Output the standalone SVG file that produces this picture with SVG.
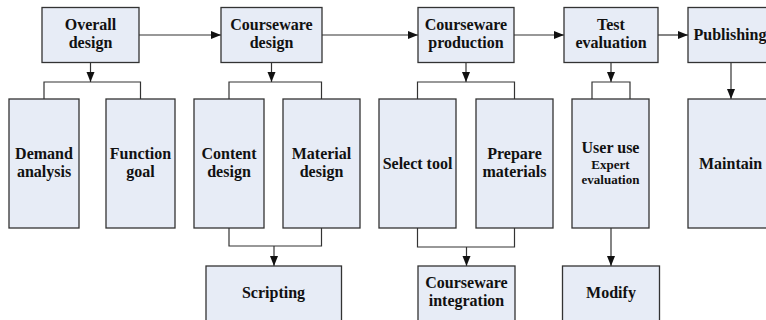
<svg xmlns="http://www.w3.org/2000/svg" width="766" height="320" viewBox="0 0 766 320">
<defs>
<style>
.box{fill:#E7ECF6;stroke:#333;stroke-width:1.3}
.t{font-weight:bold;font-size:16px;fill:#111;text-anchor:middle}
.s{font-size:13px}
.c{fill:none;stroke:#333;stroke-width:1.2}
</style>
<marker id="ah" markerUnits="userSpaceOnUse" markerWidth="10" markerHeight="10" viewBox="0 0 10 10" refX="10" refY="5" orient="auto">
<path d="M0,1 L10,5 L0,9 Z" fill="#111"/>
</marker>
</defs>
<rect width="766" height="320" fill="#fff"/>
<g id="connectors">
<path class="c" d="M139,35 H221" marker-end="url(#ah)"/>
<path class="c" d="M322,35 H418" marker-end="url(#ah)"/>
<path class="c" d="M514,35 H564" marker-end="url(#ah)"/>
<path class="c" d="M658,35 H688" marker-end="url(#ah)"/>
<path class="c" d="M90.5,62 V82" marker-end="url(#ah)"/>
<path class="c" d="M44,99 V82 H140.5 V99"/>
<path class="c" d="M271.5,62 V82" marker-end="url(#ah)"/>
<path class="c" d="M229,99 V82 H321.5 V99"/>
<path class="c" d="M466,62 V82" marker-end="url(#ah)"/>
<path class="c" d="M417.5,99 V82 H514.5 V99"/>
<path class="c" d="M611,62 V82" marker-end="url(#ah)"/>
<path class="c" d="M592,99 V82 H630 V99"/>
<path class="c" d="M731,62 V99" marker-end="url(#ah)"/>
<path class="c" d="M229,228 V246 H321.5 V228"/>
<path class="c" d="M274,246 V266" marker-end="url(#ah)"/>
<path class="c" d="M417.5,228 V247 H514.5 V228"/>
<path class="c" d="M466.5,247 V266" marker-end="url(#ah)"/>
<path class="c" d="M611,228 V266" marker-end="url(#ah)"/>
</g>
<g font-family="'Liberation Serif', Tinos, 'DejaVu Serif', serif">
<g id="overall"><rect class="box" x="42" y="7.5" width="97" height="55"/><text class="t" x="90.5" y="30">Overall</text><text class="t" x="90.5" y="48">design</text></g>
<g id="cdesign"><rect class="box" x="221" y="7.5" width="101" height="55"/><text class="t" x="271.5" y="30">Courseware</text><text class="t" x="271.5" y="48">design</text></g>
<g id="cproduction"><rect class="box" x="418" y="7.5" width="96" height="55"/><text class="t" x="466" y="30">Courseware</text><text class="t" x="466" y="48">production</text></g>
<g id="test"><rect class="box" x="564" y="7.5" width="94" height="55"/><text class="t" x="611" y="30">Test</text><text class="t" x="611" y="48">evaluation</text></g>
<g id="publishing"><rect class="box" x="688" y="7.5" width="86" height="55"/><text class="t" x="730" y="40">Publishing</text></g>
<g id="demand"><rect class="box" x="9" y="99" width="70" height="129"/><text class="t" x="44" y="159">Demand</text><text class="t" x="44" y="177">analysis</text></g>
<g id="function"><rect class="box" x="106" y="99" width="69" height="129"/><text class="t" x="140.5" y="159">Function</text><text class="t" x="140.5" y="177">goal</text></g>
<g id="content"><rect class="box" x="194" y="99" width="70" height="129"/><text class="t" x="229" y="159">Content</text><text class="t" x="229" y="177">design</text></g>
<g id="material"><rect class="box" x="283" y="99" width="77" height="129"/><text class="t" x="321.5" y="159">Material</text><text class="t" x="321.5" y="177">design</text></g>
<g id="select"><rect class="box" x="379" y="99" width="77" height="129"/><text class="t" x="417.5" y="169">Select tool</text></g>
<g id="prepare"><rect class="box" x="476" y="99" width="77" height="129"/><text class="t" x="514.5" y="159">Prepare</text><text class="t" x="514.5" y="177">materials</text></g>
<g id="useruse"><rect class="box" x="572" y="99" width="77" height="129"/><text class="t" x="610.5" y="152.5">User use</text><text class="t s" x="610.5" y="169">Expert</text><text class="t s" x="610.5" y="184">evaluation</text></g>
<g id="maintain"><rect class="box" x="688" y="99" width="86" height="129"/><text class="t" x="730.5" y="169">Maintain</text></g>
<g id="scripting"><rect class="box" x="206" y="266" width="135.5" height="60"/><text class="t" x="273.5" y="298">Scripting</text></g>
<g id="integration"><rect class="box" x="418" y="266" width="97" height="60"/><text class="t" x="466.5" y="288">Courseware</text><text class="t" x="466.5" y="306">integration</text></g>
<g id="modify"><rect class="box" x="562.5" y="266" width="97" height="60"/><text class="t" x="611" y="298">Modify</text></g>
</g>
</svg>
